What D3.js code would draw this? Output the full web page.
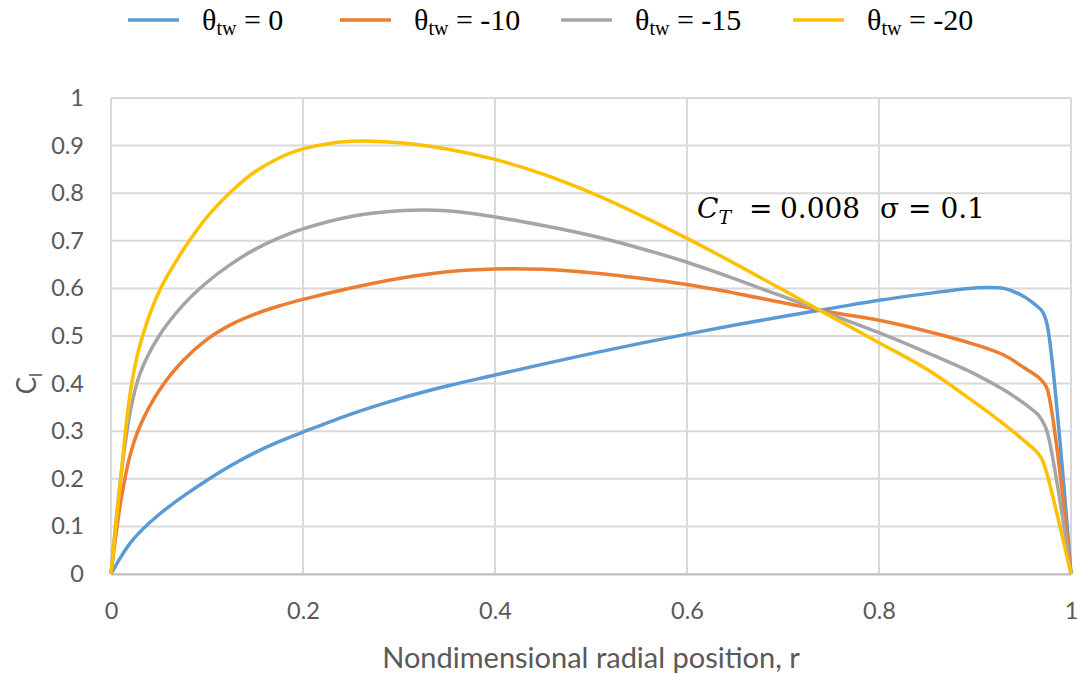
<!DOCTYPE html>
<html>
<head>
<meta charset="utf-8">
<script src="https://cdn.jsdelivr.net/npm/d3@7"></script>
<style>
  html, body { margin: 0; padding: 0; background: #fff; }
  svg { display: block; }
  text { white-space: pre; }
</style>
</head>
<body>
<div id="chart"></div>
<script>
// ── Data ───────────────────────────────────────────────────────────────────

var rGrid = [0, 0.01, 0.02, 0.03, 0.05, 0.075, 0.1, 0.125, 0.15, 0.175, 0.2, 0.25, 0.3,
             0.35, 0.4, 0.45, 0.5, 0.55, 0.6, 0.65, 0.7, 0.75, 0.8, 0.85, 0.9, 0.93,
             0.95, 0.965, 0.97, 0.975, 1.0];

var clTw0   = [0, 0.035, 0.065, 0.088, 0.125, 0.163, 0.197, 0.228, 0.255, 0.278, 0.298, 0.336, 0.368,
               0.395, 0.418, 0.441, 0.463, 0.484, 0.504, 0.523, 0.541, 0.558, 0.575, 0.589, 0.601, 0.6,
               0.584, 0.562, 0.552, 0.525, 0];
var clTw10  = [0, 0.15, 0.25, 0.31, 0.385, 0.448, 0.493, 0.524, 0.546, 0.563, 0.577, 0.601, 0.621,
               0.635, 0.641, 0.64, 0.633, 0.622, 0.608, 0.59, 0.57, 0.55, 0.533, 0.51, 0.482, 0.46,
               0.435, 0.415, 0.405, 0.39, 0];
var clTw15  = [0, 0.2, 0.34, 0.42, 0.5, 0.565, 0.613, 0.651, 0.682, 0.706, 0.725, 0.751, 0.763,
               0.763, 0.75, 0.732, 0.711, 0.685, 0.655, 0.62, 0.583, 0.545, 0.507, 0.465, 0.42, 0.387,
               0.36, 0.336, 0.322, 0.30, 0];
var clTw20  = [0, 0.2, 0.38, 0.48, 0.593, 0.68, 0.75, 0.803, 0.845, 0.874, 0.893, 0.909, 0.906,
               0.893, 0.871, 0.84, 0.801, 0.755, 0.705, 0.652, 0.597, 0.541, 0.486, 0.43, 0.36, 0.315,
               0.282, 0.255, 0.24, 0.21, 0];

var seriesNames  = ['0', '-10', '-15', '-20'];
var seriesColors = ['#5b9bd5', '#ed7d31', '#a5a5a5', '#ffc000'];
var seriesValues = [clTw0, clTw10, clTw15, clTw20];

var xTicks = [0, 0.2, 0.4, 0.6, 0.8, 1];
var yTicks = [0, 0.1, 0.2, 0.3, 0.4, 0.5, 0.6, 0.7, 0.8, 0.9, 1];

// ── Layout ─────────────────────────────────────────────────────────────────

var width = 1077, height = 674;
var margin = { top: 98, right: 6, bottom: 100, left: 111 };
var textColor = '#595959';
var gridColor = '#d9d9d9';
var tickFont = 'Lato, "Open Sans", sans-serif';

var svg = d3.select('#chart').append('svg')
  .attr('width', width)
  .attr('height', height);

var x = d3.scaleLinear().domain([0, 1]).range([margin.left, width - margin.right]);
var y = d3.scaleLinear().domain([0, 1]).range([height - margin.bottom, margin.top]);

// gridlines
svg.append('g')
  .selectAll('line')
  .data(yTicks)
  .join('line')
  .attr('x1', x(0)).attr('x2', x(1))
  .attr('y1', function(d) { return y(d); })
  .attr('y2', function(d) { return y(d); })
  .attr('stroke', gridColor)
  .attr('stroke-width', 2);

svg.append('g')
  .selectAll('line')
  .data(xTicks)
  .join('line')
  .attr('x1', function(d) { return x(d); })
  .attr('x2', function(d) { return x(d); })
  .attr('y1', y(0)).attr('y2', y(1))
  .attr('stroke', gridColor)
  .attr('stroke-width', 2);

// x axis
var xAxis = svg.append('g')
  .attr('transform', 'translate(0,' + y(0) + ')')
  .call(d3.axisBottom(x).tickValues(xTicks).tickFormat(d3.format('')).tickSize(0).tickPadding(28));
xAxis.select('.domain').attr('stroke', '#bfbfbf').attr('stroke-width', 2);
xAxis.selectAll('text')
  .attr('fill', textColor)
  .style('font-family', tickFont)
  .style('font-size', '23.5px');

// y axis
var yAxis = svg.append('g')
  .attr('transform', 'translate(' + x(0) + ',0)')
  .call(d3.axisLeft(y).tickValues(yTicks).tickFormat(d3.format('')).tickSize(0).tickPadding(27));
yAxis.select('.domain').remove();
yAxis.selectAll('text')
  .attr('fill', textColor)
  .style('font-family', tickFont)
  .style('font-size', '23.5px');

// axis titles
svg.append('text')
  .attr('x', (x(0) + x(1)) / 2)
  .attr('y', 668)
  .attr('text-anchor', 'middle')
  .attr('fill', textColor)
  .style('font-family', tickFont)
  .style('font-size', '29px')
  .text('Nondimensional radial position, r');

var yTitle = svg.append('text')
  .attr('transform', 'translate(36,' + y(0.4) + ') rotate(-90)')
  .attr('text-anchor', 'middle')
  .attr('fill', textColor)
  .style('font-family', tickFont)
  .style('font-size', '26px');
yTitle.append('tspan').text('C');
yTitle.append('tspan').attr('dy', 6).style('font-size', '17px').text('l');

// series lines
var line = d3.line()
  .x(function(d) { return x(d[0]); })
  .y(function(d) { return y(d[1]); })
  .curve(d3.curveCatmullRom.alpha(0.5));

svg.append('g')
  .selectAll('path')
  .data(seriesValues)
  .join('path')
  .attr('d', function(vals) { return line(rGrid.map(function(r, i) { return [r, vals[i]]; })); })
  .attr('fill', 'none')
  .attr('stroke', function(d, i) { return seriesColors[i]; })
  .attr('stroke-width', 3.5)
  .attr('stroke-linejoin', 'round');

// annotation
var noteFont = '"DejaVu Serif", serif';
var note = svg.append('text')
  .attr('y', 218)
  .attr('fill', '#000')
  .style('font-family', noteFont)
  .style('font-size', '28px');
note.append('tspan').attr('x', 697).style('font-style', 'italic').text('C');
note.append('tspan').attr('dy', 6).style('font-style', 'italic').style('font-size', '19px').text('T');
note.append('tspan').attr('dy', -6).attr('x', 749).text('=');
note.append('tspan').attr('x', 780).text('0.008');

svg.append('text')
  .attr('x', 880)
  .attr('y', 218)
  .attr('fill', '#000')
  .style('font-family', noteFont)
  .style('font-size', '28px')
  .text('\u03c3 = 0.1');

// legend
var legendX = [128, 340, 561, 793];
var legend = svg.append('g')
  .selectAll('g')
  .data(seriesNames)
  .join('g')
  .attr('transform', function(d, i) { return 'translate(' + legendX[i] + ',20)'; });

legend.append('line')
  .attr('x1', 0).attr('x2', 51)
  .attr('stroke', function(d, i) { return seriesColors[i]; })
  .attr('stroke-width', 3.5);

var legText = legend.append('text')
  .attr('x', 74)
  .attr('y', 10)
  .attr('fill', '#000')
  .style('font-family', '"Liberation Serif", serif')
  .style('font-size', '30px');
legText.append('tspan').text('\u03b8');
legText.append('tspan').attr('dy', 5).style('font-size', '20px').text('tw');
legText.append('tspan').attr('dy', -5).text(function(d) { return ' = ' + d; });
</script>
</body>
</html>
